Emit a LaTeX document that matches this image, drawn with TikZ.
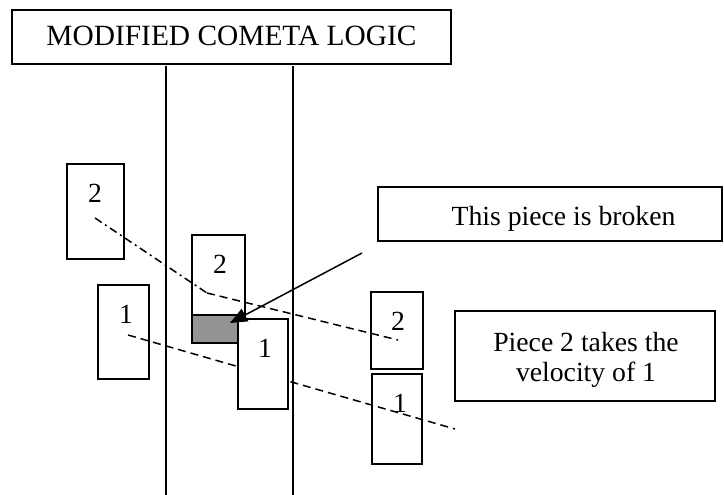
\documentclass[tikz,border=0pt]{standalone}
\usepackage{fontspec}
\setmainfont{Liberation Serif}
\usetikzlibrary{arrows.meta}
\begin{document}
\begin{tikzpicture}[x=1pt,y=-1pt,
  box/.style={draw, line width=1.5pt, inner sep=0pt, outer sep=0pt, anchor=north west},
  txt/.style={inner sep=0pt, anchor=base, font=\fontsize{27.7}{31}\selectfont},
  dashln/.style={line width=1.5pt, dash pattern=on 8pt off 5pt},
  dashdotln/.style={line width=1.5pt, dash pattern=on 8pt off 4pt on 2pt off 4pt},
  wall/.style={line width=1.5pt},
  arr/.style={line width=1.5pt, -{Triangle[length=17pt,width=14pt]}}]
\useasboundingbox (0,0) rectangle (724,495);

% title
\node[box, minimum width=439pt, minimum height=54pt] (titlebox) at (12,10) {};
\node[txt, font=\fontsize{29.4}{33}\selectfont] (title) at (231.5,46) {MODIFIED COMETA LOGIC};

% walls
\coordinate (w1t) at (166,66); \coordinate (w1b) at (166,495);
\coordinate (w2t) at (293,66); \coordinate (w2b) at (293,495);
\draw[wall] (w1t) -- (w1b);
\draw[wall] (w2t) -- (w2b);

% left pieces
\node[box, minimum width=57pt, minimum height=95pt] (l2) at (67,164) {};
\node[txt] (l2t) at (95,202) {2};
\node[box, minimum width=51pt, minimum height=94pt] (l1) at (98,285) {};
\node[txt] (l1t) at (126,323) {1};

% middle piece 2 with broken part
\node[box, minimum width=53pt, minimum height=108pt] (m2) at (192,235) {};
\node[box, fill=black!42, minimum width=53pt, minimum height=28pt] (broken) at (192,315) {};
\node[txt] (m2t) at (220,273) {2};

% right pieces
\node[box, minimum width=52pt, minimum height=77pt] (r2) at (371,292) {};
\node[txt] (r2t) at (398,330) {2};
\node[box, minimum width=50pt, minimum height=90pt] (r1) at (372,374) {};
\node[txt] (r1t) at (400,412) {1};

% trajectories
\coordinate (a1) at (95,218);
\coordinate (a2) at (207,293);
\coordinate (a3) at (398,340);
\coordinate (b1) at (128,335);
\coordinate (b2) at (455,429);
\draw[dashdotln] (a1) -- (a2);
\draw[dashln] (a2) -- (a3);
\draw[dashln] (b1) -- (b2);

% middle piece 1 (on top)
\node[box, fill=white, minimum width=50pt, minimum height=90pt] (m1) at (238,319) {};
\node[txt] (m1t) at (265,357) {1};

% callouts
\node[box, minimum width=344pt, minimum height=54pt] (brokenbox) at (378,187) {};
\node[txt] (brokentxt) at (563.5,225) {This piece is broken};
\node[box, minimum width=260pt, minimum height=90pt] (piecebox) at (455,311) {};
\node[txt] (p1) at (586,351) {Piece 2 takes the};
\node[txt] (p2) at (586,381) {velocity of 1};

% arrow
\coordinate (arrstart) at (362,253);
\coordinate (arrtip) at (230,323);
\draw[arr] (arrstart) -- (arrtip);
\end{tikzpicture}
\end{document}
